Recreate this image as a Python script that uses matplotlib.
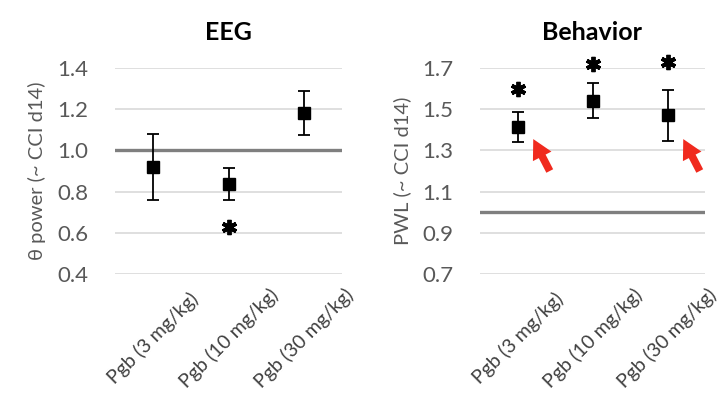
import matplotlib
matplotlib.use("Agg")
import matplotlib.pyplot as plt

plt.rcParams['font.family'] = ['Lato', 'DejaVu Sans']

categories = ["Pgb (3 mg/kg)", "Pgb (10 mg/kg)", "Pgb (30 mg/kg)"]

eeg_mean = [0.92, 0.835, 1.18]
eeg_err = [0.162, 0.078, 0.107]
eeg_star_x = [1]
eeg_star_y = [0.63]
eeg_ticks = [0.4, 0.6, 0.8, 1.0, 1.2, 1.4]

beh_mean = [1.415, 1.54, 1.47]
beh_err = [0.073, 0.085, 0.125]
beh_star_x = [0, 1, 2]
beh_star_y = [1.60, 1.72, 1.73]
beh_ticks = [0.7, 0.9, 1.1, 1.3, 1.5, 1.7]
arrow_x = [0, 2]

GRID = '#d9d9d9'
TICKC = '#595959'
REF = '#7f7f7f'

fig = plt.figure(figsize=(7.24, 4.0), dpi=100)
ax1 = fig.add_axes([115/724, 1-274/400, 227/724, 206/400])
ax2 = fig.add_axes([480/724, 1-274/400, 225/724, 206/400])


def style(ax, ticks, ylabel, title):
    ax.set_xlim(-0.5, 2.5)
    ax.set_ylim(ticks[0], ticks[-1])
    ax.set_yticks(ticks)
    ax.set_yticklabels([f"{t:.1f}" for t in ticks])
    for t in ticks:
        ax.axhline(t, color=GRID, lw=1.2, zorder=0)
    for s in ax.spines.values():
        s.set_visible(False)
    ax.tick_params(axis='both', length=0)
    ax.tick_params(axis='y', labelsize=16, labelcolor=TICKC, pad=19)
    ax.set_xticks(range(len(categories)))
    ax.set_xticklabels(categories, rotation=45, ha='center', va='center',
                       rotation_mode='default', fontsize=14, color='#404040')
    ax.tick_params(axis='x', pad=46)
    ax.set_ylabel(ylabel, fontsize=14.5, color=TICKC, labelpad=8)
    ax.set_title(title, fontsize=18, fontweight='bold', pad=20)
    ax.axhline(1.0, color=REF, lw=2.4, zorder=1)


style(ax1, eeg_ticks, "θ power (~ CCI d14)", "EEG")
style(ax2, beh_ticks, "PWL (~ CCI d14)", "Behavior")

for ax, m, e in [(ax1, eeg_mean, eeg_err), (ax2, beh_mean, beh_err)]:
    ax.errorbar(range(len(m)), m, yerr=e, fmt='s', color='black', ms=8,
                capsize=4, elinewidth=1.3, capthick=1.3, zorder=3)

ax1.plot(eeg_star_x, eeg_star_y, linestyle='none', marker=(6, 2, 0), ms=11,
         mew=2.8, color='black', clip_on=False)
ax2.plot(beh_star_x, beh_star_y, linestyle='none', marker=(6, 2, 0), ms=11,
         mew=2.8, color='black', clip_on=False)

for xa in arrow_x:
    ax2.annotate('', xy=(xa + 0.21, 1.355), xytext=(xa + 0.43, 1.2),
                 arrowprops=dict(arrowstyle='simple,head_length=1.4,head_width=1.5,tail_width=0.55',
                                 color='#f02a1e', lw=0, shrinkA=0, shrinkB=0))

fig.savefig('out.png', dpi=100)
